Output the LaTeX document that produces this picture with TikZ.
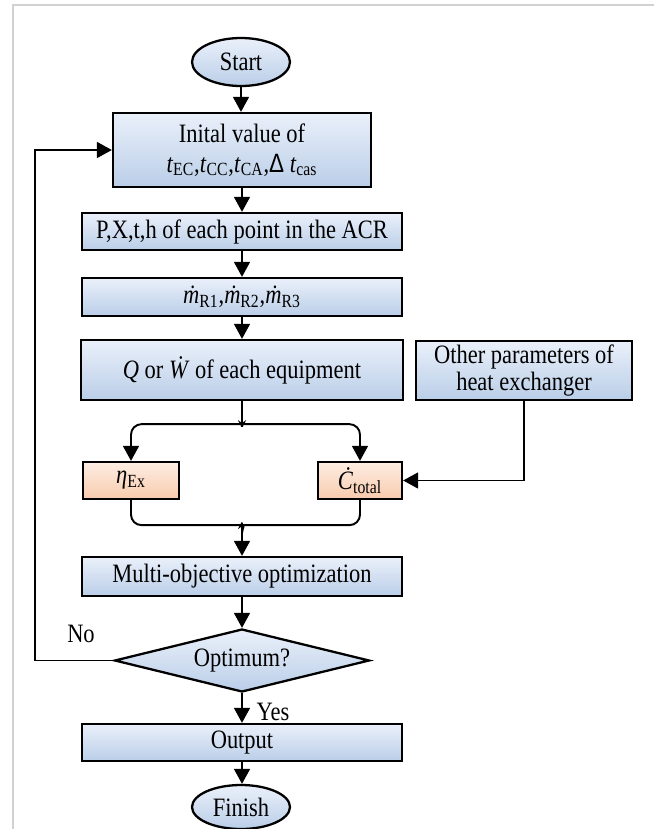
\documentclass[tikz,border=0pt]{standalone}
\usepackage{fontspec}
\setmainfont{Liberation Serif}
\setsansfont{Liberation Sans}
\usepackage{xcolor}
\usepackage{graphicx}
\usetikzlibrary{arrows.meta,shapes.geometric}

\definecolor{boxtop}{RGB}{234,240,250}
\definecolor{boxbot}{RGB}{186,206,232}
\definecolor{restop}{RGB}{254,238,228}
\definecolor{resbot}{RGB}{248,202,172}
\newcommand\tall[1]{\scalebox{1}[1.18]{#1}}

\begin{document}
\begin{tikzpicture}[x=0.02cm,y=-0.02cm,font=\fontsize{12.8}{15}\selectfont,
  proc/.style={draw,line width=1.3pt,inner sep=0pt,align=center,top color=boxtop,bottom color=boxbot},
  res/.style={proc,top color=restop,bottom color=resbot},
  term/.style={proc,ellipse,minimum width=1.96cm,minimum height=0.96cm},
  ask/.style={proc,diamond,aspect=4,minimum width=5.1cm,minimum height=1.26cm},
  lin/.style={line width=1.1pt},
  arw/.style={lin,-{Triangle[length=8.5pt,width=9pt]}}]
  \useasboundingbox (0,0) rectangle (654,829);
  \draw[black!18,line width=1.2pt] (13,829) -- (13,5) -- (654,5);

  \node[term] (start) at (241,62) {\tall{Start}};
  \node[proc,minimum width=5.16cm,minimum height=1.48cm] (init) at (242,150)
    {\tall{Inital value of}\\[2pt]\tall{\textit{t}\textsubscript{EC},\textit{t}\textsubscript{CC},\textit{t}\textsubscript{CA},{\sffamily Δ} \textit{t}\textsubscript{cas}}};
  \node[proc,minimum width=6.4cm,minimum height=0.74cm] (pxth) at (242,231.5) {\tall{P,X,t,h of each point in the ACR}};
  \node[proc,minimum width=6.4cm,minimum height=0.76cm] (mflow) at (242,297)
    {\tall{\textit{\.m}\textsubscript{R1},\textit{\.m}\textsubscript{R2},\textit{\.m}\textsubscript{R3}}};
  \node[proc,minimum width=6.44cm,minimum height=1.2cm] (qw) at (242,370) {\tall{\textit{Q} or \textit{\.W} of each equipment}};
  \node[proc,minimum width=4.32cm,minimum height=1.18cm] (hx) at (524,370.5) {\tall{Other parameters of}\\\tall{heat exchanger}};
  \node[res,minimum width=1.92cm,minimum height=0.74cm] (eta) at (131,480.5) {\tall{\textit{η}\textsubscript{Ex}}};
  \node[res,minimum width=1.68cm,minimum height=0.74cm] (ctot) at (360,480.5) {\tall{\textit{\.C}\textsubscript{total}}};
  \node[proc,minimum width=6.4cm,minimum height=0.78cm] (moo) at (242,576.5) {\tall{Multi-objective optimization}};
  \node[ask] (opt) at (242,660.5) {\tall{Optimum?}};
  \node[proc,minimum width=6.4cm,minimum height=0.74cm] (out) at (242,742.5) {\tall{Output}};
  \node[term,minimum height=0.88cm] (fin) at (241,807) {\tall{Finish}};
  \node (no) at (81,634) {\tall{No}};
  \node (yes) at (273,712) {\tall{Yes}};
  \coordinate (back) at (35,660.5);

  \foreach \a/\b in {start/init,init/pxth,pxth/mflow,mflow/qw,moo/opt,opt/out,out/fin}
    \draw[arw] (\a.south) -- (\a.south |- \b.north);
  % split and merge
  \draw[arw,rounded corners=6pt] (qw.south) -- ++(0,15) to[out=-90,in=0] ++(-9,8) -| (eta.north);
  \draw[arw,rounded corners=6pt] (qw.south) -- ++(0,15) to[out=-90,in=180] ++(9,8) -| (ctot.north);
  \draw[lin,rounded corners=6pt] (ctot.south) -- ++(0,25) -- ++(-109,0) to[out=180,in=90] ++(-9,8);
  \draw[arw,rounded corners=6pt] (eta.south) -- ++(0,25) -- ++(102,0) to[out=0,in=90] ++(9,8) -- (moo.north);
  \draw[arw] (hx.south) |- (ctot.east);
  \draw[arw] (opt.west) -- (back) |- (init.west);
\end{tikzpicture}
\end{document}
